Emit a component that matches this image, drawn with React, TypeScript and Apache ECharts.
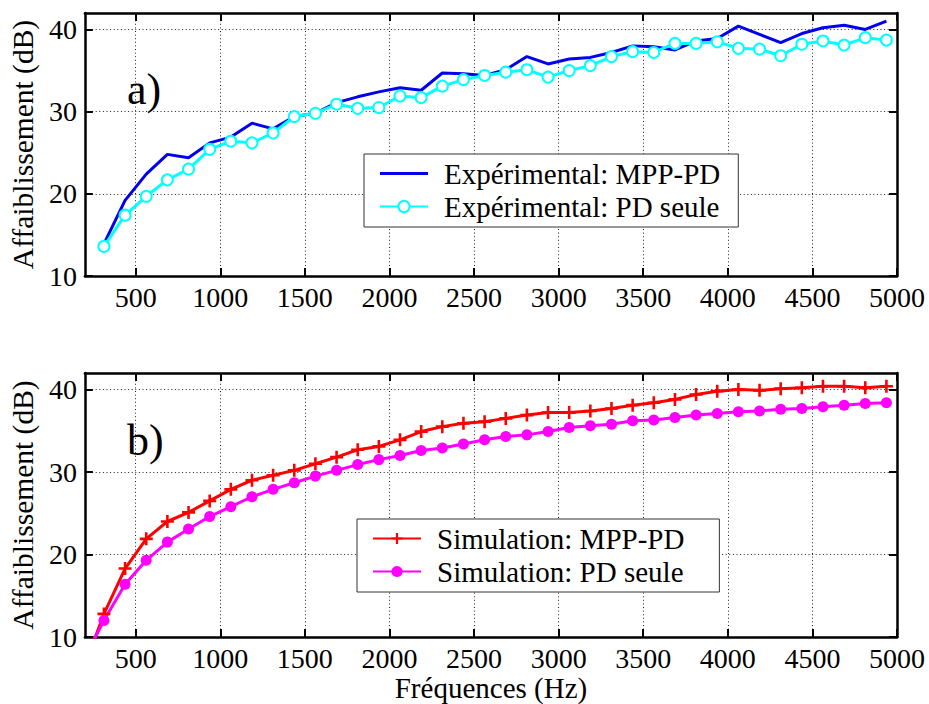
import React, { useEffect, useRef } from "react";
import * as echarts from "echarts";

// Frequencies (Hz) of the measured / simulated points
const freqs: number[] = [
  312.5, 437.5, 562.5, 687.5, 812.5, 937.5, 1062.5, 1187.5, 1312.5, 1437.5,
  1562.5, 1687.5, 1812.5, 1937.5, 2062.5, 2187.5, 2312.5, 2437.5, 2562.5, 2687.5,
  2812.5, 2937.5, 3062.5, 3187.5, 3312.5, 3437.5, 3562.5, 3687.5, 3812.5, 3937.5,
  4062.5, 4187.5, 4312.5, 4437.5, 4562.5, 4687.5, 4812.5, 4937.5,
];
const simFreqs: number[] = [187.5, ...freqs];

// a) Experimental
const expMppPd: number[] = [
  13.9, 19.2, 22.4, 24.8, 24.4, 26.2, 26.9, 28.6, 27.9, 29.4,
  29.8, 31.1, 31.8, 32.4, 32.9, 32.6, 34.7, 34.6, 34.4, 35.1,
  36.7, 35.8, 36.4, 36.6, 37.2, 38.0, 37.9, 37.5, 38.6, 38.9,
  40.4, 39.4, 38.4, 39.5, 40.2, 40.5, 40.0, 41.0,
];
const expPd: number[] = [
  13.6, 17.4, 19.7, 21.7, 23.0, 25.4, 26.4, 26.2, 27.4, 29.4,
  29.8, 30.9, 30.4, 30.5, 31.9, 31.7, 33.1, 33.9, 34.4, 34.8,
  35.1, 34.2, 35.0, 35.6, 36.7, 37.3, 37.2, 38.3, 38.3, 38.5,
  37.7, 37.6, 36.8, 38.2, 38.6, 38.1, 39.0, 38.7,
];

// b) Simulation (first value lies left of the visible range)
const simMppPd: number[] = [
  5.9, 12.8, 18.3, 21.9, 24.0, 25.1, 26.5, 27.9, 29.0, 29.6, 30.2,
  31.0, 31.8, 32.7, 33.1, 33.9, 34.9, 35.5, 35.9, 36.1, 36.5,
  36.9, 37.2, 37.2, 37.4, 37.7, 38.1, 38.4, 38.8, 39.4, 39.8,
  40.0, 39.9, 40.1, 40.2, 40.4, 40.4, 40.2, 40.4,
];
const simPd: number[] = [
  7.0, 12.0, 16.4, 19.3, 21.5, 23.1, 24.6, 25.8, 27.0, 27.9, 28.7,
  29.5, 30.2, 30.9, 31.5, 32.0, 32.6, 32.9, 33.4, 33.9, 34.3,
  34.5, 34.9, 35.4, 35.6, 35.8, 36.2, 36.3, 36.6, 36.9, 37.1,
  37.3, 37.4, 37.6, 37.7, 37.9, 38.1, 38.3, 38.4,
];

const xTicks: number[] = [500, 1000, 1500, 2000, 2500, 3000, 3500, 4000, 4500, 5000];
const yTicks: number[] = [10, 20, 30, 40];

const names = {
  expMpp: "Expérimental: MPP-PD",
  expPd: "Expérimental: PD seule",
  simMpp: "Simulation: MPP-PD",
  simPd: "Simulation: PD seule",
};

const FONT = "Liberation Serif";

const zip = (xs: number[], ys: number[]) => xs.map((x, i) => [x, ys[i]]);

const plusPath = "path://M4,0L6,0L6,4L10,4L10,6L6,6L6,10L4,10L4,6L0,6L0,4L4,4Z";
const lineIcon = "path://M0,0L48,0L48,3L0,3Z";
const plain = (v: number) => String(v);

function xAxisPair(grid: number, withName: boolean): any[] {
  const line = { show: true, onZero: false, lineStyle: { color: "#000", width: 2.5 } };
  const tick = { show: true, inside: true, length: 8, customValues: xTicks, lineStyle: { color: "#000", width: 2 } };
  return [
    {
      gridIndex: grid, type: "value", min: 200, max: 5000, position: "bottom",
      axisLine: line, axisTick: tick,
      axisLabel: { show: true, customValues: xTicks, formatter: plain, fontSize: 28, fontFamily: FONT, color: "#000", margin: 7 },
      splitLine: { show: true, lineStyle: { color: "#222", width: 1, type: [1, 2.6] } },
      name: withName ? "Fréquences (Hz)" : "",
      nameLocation: "middle", nameGap: 36,
      nameTextStyle: { fontSize: 29, fontFamily: FONT, color: "#000" },
    },
    {
      gridIndex: grid, type: "value", min: 200, max: 5000, position: "top",
      axisLine: line, axisTick: tick,
      axisLabel: { show: false, customValues: xTicks },
      splitLine: { show: false },
    },
  ];
}

function yAxisPair(grid: number): any[] {
  const line = { show: true, onZero: false, lineStyle: { color: "#000", width: 2.5 } };
  const tick = { show: true, inside: true, length: 8, customValues: yTicks, lineStyle: { color: "#000", width: 2 } };
  return [
    {
      gridIndex: grid, type: "value", min: 10, max: 42, position: "left",
      axisLine: line, axisTick: tick,
      axisLabel: { show: true, customValues: yTicks, formatter: plain, fontSize: 28, fontFamily: FONT, color: "#000", margin: 8 },
      splitLine: { show: true, lineStyle: { color: "#222", width: 1, type: [1, 2.6] } },
      name: "Affaiblissement (dB)", nameLocation: "middle", nameGap: 40,
      nameTextStyle: { fontSize: 29.5, fontFamily: FONT, color: "#000" },
    },
    {
      gridIndex: grid, type: "value", min: 10, max: 42, position: "right",
      axisLine: line, axisTick: tick,
      axisLabel: { show: false, customValues: yTicks },
      splitLine: { show: false },
    },
  ];
}

export default function App() {
  const ref = useRef<HTMLDivElement>(null);
  useEffect(() => {
    if (!ref.current) return;
    const chart = echarts.init(ref.current, undefined, { renderer: "svg" });
    const legendText = { fontSize: 29, fontFamily: FONT, color: "#000", padding: [0, 0, 0, 11] };
    chart.setOption({
      animation: false,
      backgroundColor: "#fff",
      textStyle: { fontFamily: FONT },
      grid: [
        { left: 76, top: 13, width: 821, height: 263 },
        { left: 76, top: 373, width: 821, height: 264 },
      ],
      xAxis: [...xAxisPair(0, false), ...xAxisPair(1, true)],
      yAxis: [...yAxisPair(0), ...yAxisPair(1)],
      legend: [
        {
          data: [{ name: names.expMpp, icon: lineIcon }, names.expPd], orient: "vertical", left: 364, top: 154,
          padding: [5, 18, 6, 15], itemGap: 4, itemWidth: 48, itemHeight: 14,
          backgroundColor: "#fff", borderColor: "#333", borderWidth: 1, borderRadius: 0,
          textStyle: { ...legendText }, selectedMode: false,
        },
        {
          data: [names.simMpp, names.simPd], orient: "vertical", left: 357, top: 519,
          padding: [5, 35, 6, 15], itemGap: 4, itemWidth: 48, itemHeight: 14,
          backgroundColor: "#fff", borderColor: "#333", borderWidth: 1, borderRadius: 0,
          textStyle: { ...legendText }, selectedMode: false,
        },
      ],
      graphic: [
        { type: "text", left: 127, top: 67, style: { text: "a)", fontSize: 44, fontFamily: FONT, fill: "#000" } },
        { type: "text", left: 127, top: 418, style: { text: "b)", fontSize: 44, fontFamily: FONT, fill: "#000" } },
      ],
      series: [
        {
          name: names.expMpp, type: "line", xAxisIndex: 0, yAxisIndex: 0,
          data: zip(freqs, expMppPd), symbol: "none",
          lineStyle: { color: "#0000ee", width: 3 }, itemStyle: { color: "#0000ee" },
        },
        {
          name: names.expPd, type: "line", xAxisIndex: 0, yAxisIndex: 0,
          data: zip(freqs, expPd), symbol: "emptyCircle", symbolSize: 11, showAllSymbol: true,
          lineStyle: { color: "#00ffff", width: 3 },
          itemStyle: { color: "#00ffff", borderColor: "#00ffff", borderWidth: 2.5 },
        },
        {
          name: names.simMpp, type: "line", xAxisIndex: 2, yAxisIndex: 2,
          data: zip(simFreqs, simMppPd), symbol: plusPath, symbolSize: 13, showAllSymbol: true,
          lineStyle: { color: "#ff0000", width: 3 },
          itemStyle: { color: "#ff0000", borderWidth: 0 },
        },
        {
          name: names.simPd, type: "line", xAxisIndex: 2, yAxisIndex: 2,
          data: zip(simFreqs, simPd), symbol: "circle", symbolSize: 11, showAllSymbol: true,
          lineStyle: { color: "#ff00ff", width: 3 },
          itemStyle: { color: "#ff00ff" },
        },
      ],
    });
    return () => chart.dispose();
  }, []);
  return (
    <div
      ref={ref}
      style={{ position: "fixed", left: 0, top: 0, width: 929, height: 704, background: "#fff" }}
    />
  );
}
